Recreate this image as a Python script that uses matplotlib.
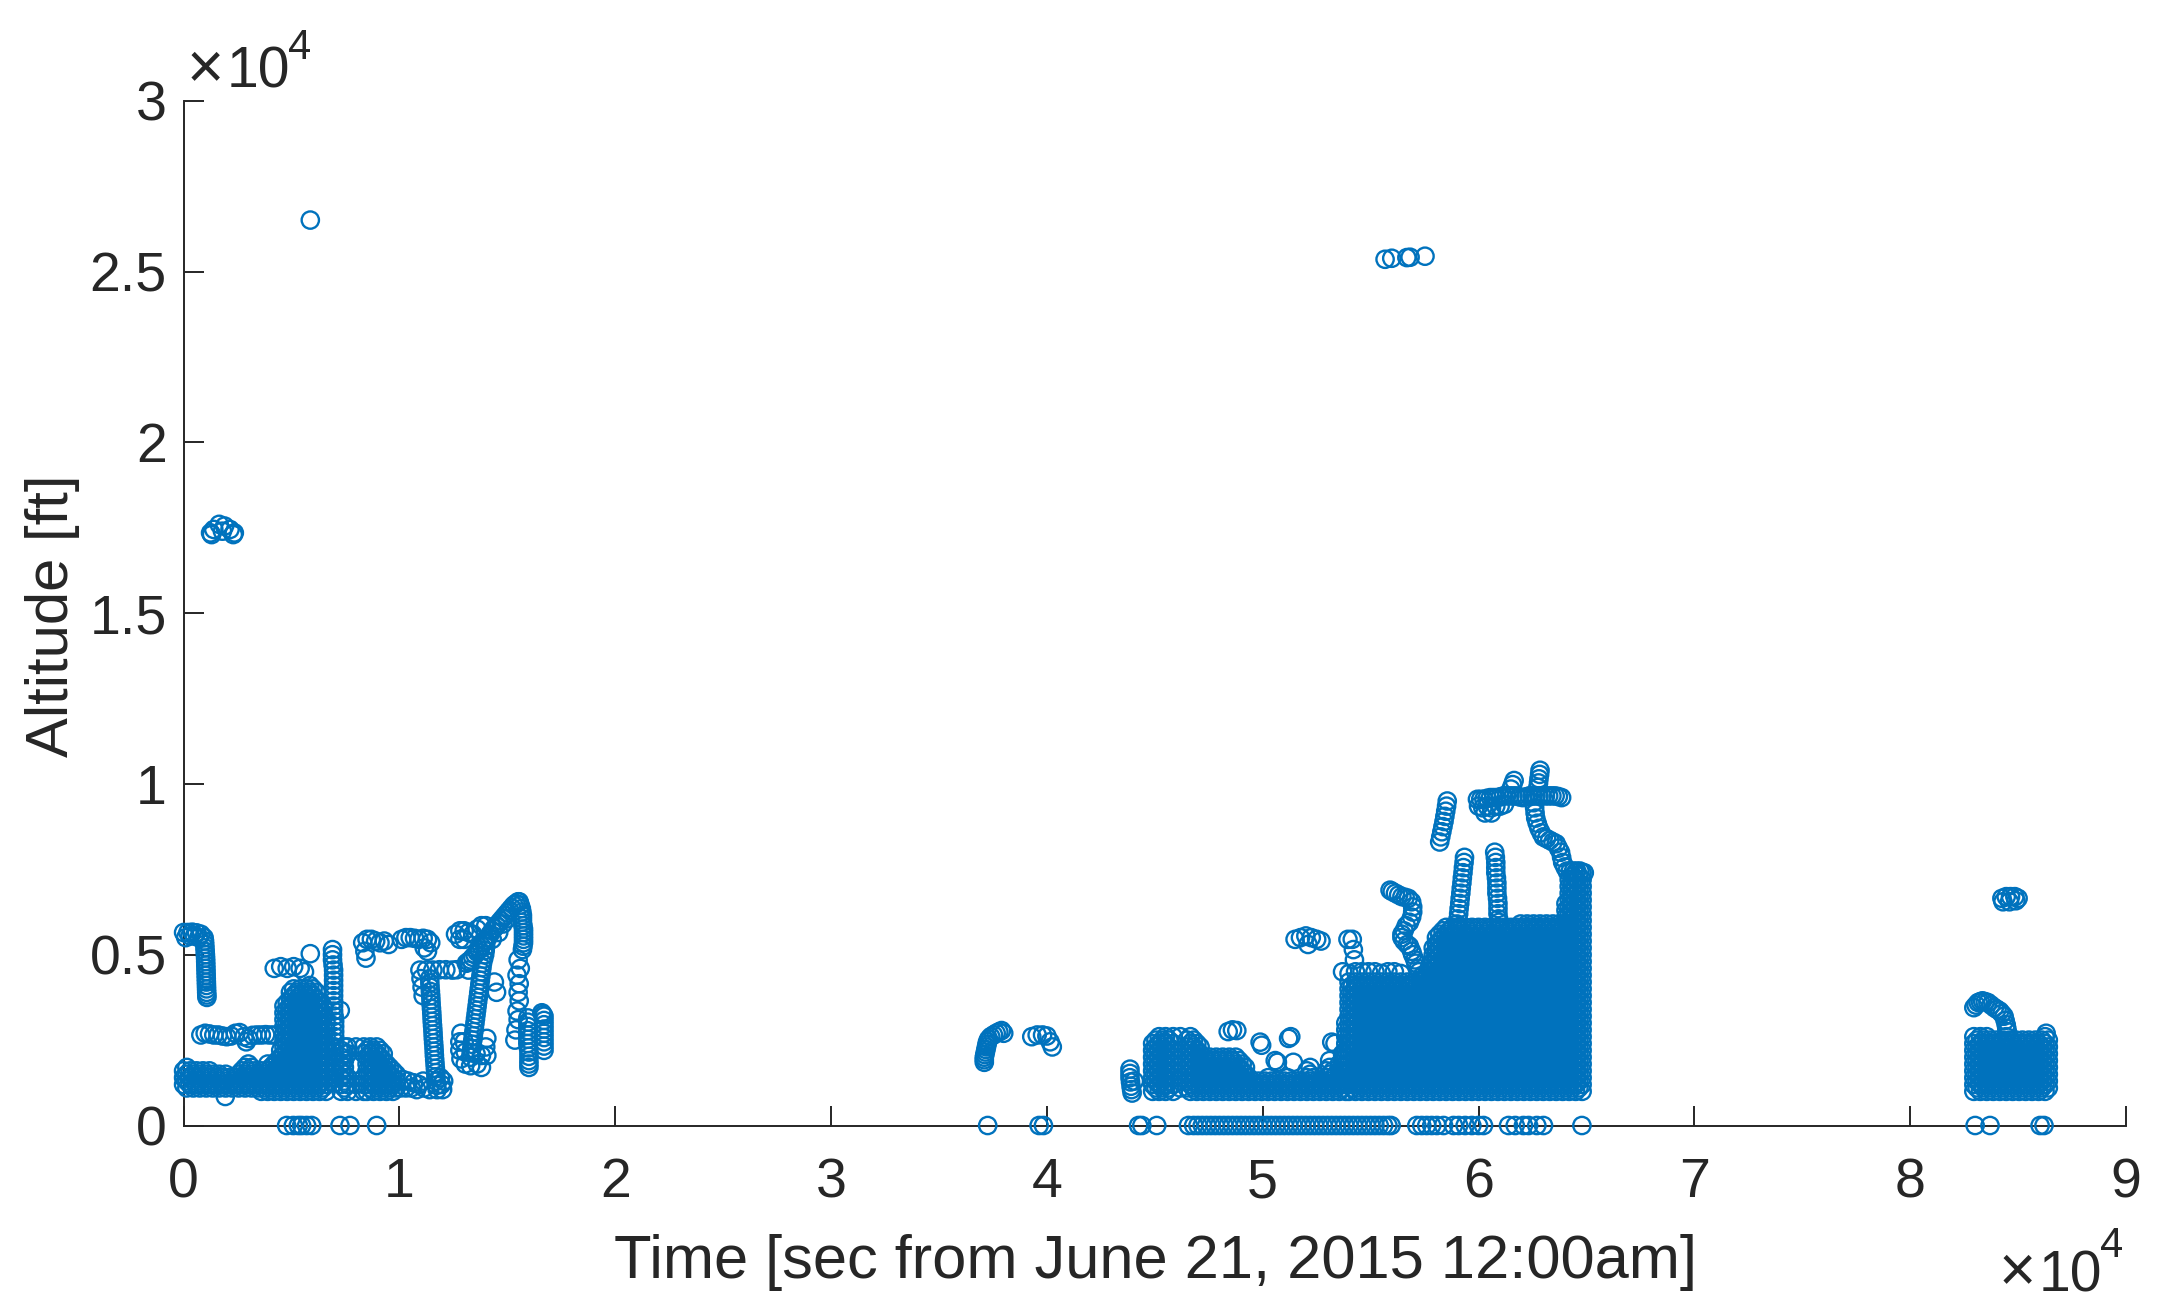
import numpy as np
import matplotlib
matplotlib.use("Agg")
import matplotlib.pyplot as plt

plt.rcParams['font.family'] = ['Liberation Sans', 'DejaVu Sans']

# ---------------- data (time [s], altitude [ft]) ----------------
xticks = [0, 10000, 20000, 30000, 40000, 50000, 60000, 70000, 80000, 90000]
xtick_labels = ['0', '1', '2', '3', '4', '5', '6', '7', '8', '9']
yticks = [0, 5000, 10000, 15000, 20000, 25000, 30000]
ytick_labels = ['0', '0.5', '1', '1.5', '2', '2.5', '3']

# altitude levels at which the dense tracks were sampled
levels_a = [1000, 1200, 1400, 1600, 1800, 2000, 2200, 2400, 2600, 2800, 3000, 3200, 3400,
            3600, 3800, 4000, 4200, 4400, 4600, 4800, 5000, 5200, 5400, 5600, 5800, 6000,
            6200, 6400, 6600, 6800, 7000, 7200, 7400]
levels_b = [1100, 1300, 1500, 1700, 1900, 2100, 2300, 2500, 2700, 2900, 3100, 3300, 3500,
            3700, 3900, 4100, 4300, 4500, 4700, 4900, 5100, 5300, 5500, 5700, 5900, 6100,
            6300, 6500, 6700, 6900, 7100, 7300]

# dense blocks: (time, lowest altitude, highest altitude)
left_low_block = [(0, 1100, 1650), (150, 1100, 1650), (300, 1100, 1600), (450, 1100, 1600),
                  (600, 1100, 1600), (750, 1100, 1550), (900, 1100, 1550), (1050, 1100, 1550),
                  (1200, 1100, 1550), (1350, 1100, 1500), (1500, 1100, 1500), (1650, 1100, 1500),
                  (1800, 1100, 1450), (1950, 1100, 1450), (2100, 1100, 1400), (2250, 1100, 1400),
                  (2400, 1100, 1450), (2550, 1100, 1500), (2700, 1100, 1600), (2850, 1100, 1750),
                  (3000, 1100, 1750), (3150, 1100, 1700), (3300, 1100, 1700), (3450, 1050, 1600),
                  (3600, 1050, 1600), (3750, 1050, 1550), (3900, 1050, 1800), (4050, 1050, 1800),
                  (4200, 1050, 1800), (4350, 1000, 2000)]
left_d_block = [(4500, 1000, 2200), (4650, 1000, 3500), (4800, 1000, 3700), (4950, 1000, 3850),
                (5100, 1000, 3950), (5250, 1000, 3950), (5400, 1000, 4000), (5550, 1000, 4000),
                (5700, 1000, 4000), (5850, 1000, 4050), (6000, 1000, 4100), (6150, 1000, 3900),
                (6300, 1000, 3700), (6450, 1000, 3500), (6600, 1000, 3100)]
left_e_block = [(7300, 1000, 2200), (7450, 1000, 2250), (7600, 1000, 1500), (7600, 2100, 2300),
                (7990, 1000, 1250), (7990, 2300, 2300), (8350, 1000, 1500), (8350, 2100, 2300),
                (8500, 1000, 2300), (8650, 1000, 2250), (8800, 1000, 2250), (8950, 1000, 2250),
                (9100, 1000, 2250), (9250, 1000, 2150), (9400, 1000, 1900), (9550, 1000, 1800),
                (9700, 1000, 1650), (9850, 1000, 1500)]
mid_block = [(44900, 1000, 2500), (45050, 1000, 2600), (45200, 1000, 2600), (45350, 1000, 2600),
             (45500, 1000, 2600), (45650, 1000, 2600), (45850, 1000, 2600), (46180, 1000, 1300),
             (46180, 2600, 2600), (46500, 1000, 2600), (46650, 1000, 2600), (46800, 1000, 2600),
             (46950, 1000, 2500), (47100, 1000, 2400), (47250, 1000, 2000), (47400, 1000, 2000),
             (47550, 1000, 2000), (47700, 1000, 2000), (47850, 1000, 2000), (48000, 1000, 2000),
             (48150, 1000, 2000), (48300, 1000, 2000), (48450, 1000, 2000), (48600, 1000, 2000),
             (48750, 1000, 2000), (48900, 1000, 2000), (49050, 1000, 1900), (49200, 1000, 1800)]
mid_low_block = [(49350, 1000, 1500), (49500, 1000, 1400), (49650, 1000, 1300), (49800, 1000, 1250),
                 (49950, 1000, 1250), (50100, 1000, 1300), (50250, 1000, 1400), (50400, 1000, 1400),
                 (50550, 1000, 1300), (50700, 1000, 1250), (50850, 1000, 1250), (51000, 1000, 1300),
                 (51150, 1000, 1400), (51300, 1000, 1400), (51450, 1000, 1300), (51600, 1000, 1250),
                 (51750, 1000, 1300), (51900, 1000, 1400), (52050, 1000, 1600), (52200, 1000, 1800),
                 (52350, 1000, 1500), (52500, 1000, 1400), (52650, 1000, 1300), (52800, 1000, 1300),
                 (52950, 1000, 1600), (53100, 1000, 1850), (53250, 1000, 1600), (53400, 1000, 1500),
                 (53550, 1000, 1900), (53700, 1000, 2200), (53850, 1000, 3000)]
bulk_t = [54000, 54150, 54300, 54450, 54600, 54750, 54900, 55050, 55200, 55350, 55500, 55650,
          55800, 55950, 56100, 56250, 56400, 56550, 56700, 56850, 57000, 57150, 57300, 57450,
          57600, 57750, 57900, 58050, 58200, 58350, 58500, 58650, 58800, 58950, 59100, 59250,
          59400, 59550, 59700, 59850, 60000, 60150, 60300, 60450, 60600, 60750, 60900, 61050,
          61200, 61350, 61500, 61650, 61800, 61950, 62100, 62250, 62400, 62550, 62700, 62850,
          63000, 63150, 63300, 63450, 63600, 63750, 63900, 64050, 64200, 64350, 64500, 64650,
          64800]
bulk_top = [4200, 4200, 4200, 4200, 4200, 4200, 4200, 4200, 4200, 4200, 4200, 4200,
            4200, 4200, 4200, 4200, 4200, 4200, 4200, 4200, 4200, 4200, 4300, 4400,
            4500, 4700, 5200, 5500, 5700, 5800, 5800, 5800, 5800, 5800, 5800, 5800,
            5800, 5800, 5800, 5800, 5800, 5800, 5800, 5800, 5800, 5800, 5800, 5800,
            5800, 5800, 5800, 5800, 5800, 5850, 5900, 5900, 5900, 5900, 5900, 5900,
            5900, 5900, 5900, 5900, 5900, 5900, 5900, 6600, 7300, 7400, 7400, 7400,
            7400]
right_block_t = [82950, 83100, 83250, 83400, 83550, 83700, 83850, 84000, 84150, 84300, 84450,
                 84600, 84750, 84900, 85050, 85200, 85350, 85500, 85650, 85800, 85950, 86100,
                 86250, 86400]
right_block_top = [2550, 2550, 2550, 2550, 2550, 2550, 2500, 2500, 2500, 2500, 2600, 2550,
                   2500, 2500, 2500, 2500, 2500, 2500, 2500, 2500, 2500, 2550, 2600, 2550]

outliers = [(5871, 26508), (55670, 25360), (55980, 25390), (56680, 25410),
            (56830, 25420), (57520, 25450)]
blob_17k = [(1250, 17350), (1400, 17450), (1650, 17600), (1900, 17550), (2150, 17450),
            (2350, 17350), (1300, 17300), (2300, 17300), (1800, 17400)]
left_track_a = [(0, 5650), (200, 5650), (400, 5660), (600, 5640), (800, 5600), (950, 5500),
                (100, 5500), (300, 5550), (500, 5550), (700, 5500),
                (970, 5400), (980, 5300), (990, 5200), (1000, 5100), (1010, 5000), (1020, 4900),
                (1025, 4800), (1030, 4700), (1035, 4600), (1040, 4500), (1045, 4400),
                (1050, 4300), (1055, 4200), (1060, 4100), (1065, 4000), (1070, 3900),
                (1075, 3820), (1080, 3750)]
left_band_b = [(800, 2650), (1000, 2700), (1200, 2680), (1400, 2650), (1600, 2650),
               (1800, 2620), (2000, 2600), (2200, 2620), (2400, 2700), (2600, 2720),
               (2800, 2600), (2900, 2450), (3000, 2550), (3200, 2640), (3400, 2650),
               (3600, 2650), (3800, 2660), (4000, 2650), (4200, 2650), (1930, 850)]
left_block_d_pts = [(4200, 4600), (4500, 4650), (4800, 4600), (5100, 4650), (5400, 4600),
                    (5600, 4500), (5870, 5030), (6900, 5150), (6900, 5000), (6900, 4850),
                    (6925, 4700), (6950, 4550), (6950, 4400), (6950, 4250), (6950, 4100),
                    (6950, 3950), (6950, 3800), (6950, 3650), (6950, 3500), (6950, 3350),
                    (6975, 3200), (7000, 3050), (7000, 2900), (7000, 2750), (7000, 2600),
                    (7000, 2450), (7000, 2300), (7000, 2150), (7000, 2000), (7000, 1850),
                    (7000, 1700), (7000, 1550), (7000, 1400), (7000, 1250),
                    (7260, 3370), (7990, 1790)]
left_upper_pts = [(8300, 5350), (8500, 5450), (8700, 5450), (8900, 5400), (9100, 5350),
                  (9300, 5400), (9500, 5300), (8450, 4900), (8400, 5100),
                  (10100, 5450), (10300, 5500), (10500, 5500), (10700, 5480), (10900, 5450),
                  (11100, 5480), (11300, 5450), (11450, 5350), (11150, 5200), (11300, 5100)]
left_h_pts = [(10950, 4550), (11250, 4550), (11550, 4550), (11850, 4560), (12150, 4560),
              (12450, 4550), (12650, 4560), (11000, 4300), (11050, 4050), (11100, 3800),
              (11400, 4300), (11410, 4175), (11420, 4050), (11435, 3925), (11450, 3800),
              (11460, 3675), (11470, 3550), (11485, 3425), (11500, 3300), (11510, 3175),
              (11520, 3050), (11535, 2925), (11550, 2800), (11560, 2675), (11570, 2550),
              (11585, 2425), (11600, 2300), (11610, 2175), (11620, 2050), (11635, 1925),
              (11650, 1800), (11665, 1675), (11680, 1550), (11690, 1425), (11700, 1300),
              (11725, 1175), (11750, 1050),
              (10150, 1350), (10400, 1300), (10650, 1250), (10900, 1200), (11150, 1100),
              (11400, 1050), (12000, 1050), (12050, 1300), (10300, 1100), (11900, 1400),
              (10050, 1100), (10550, 1100), (10800, 1050), (11100, 1300), (11950, 1200)]
left_i_pts = [(12600, 5600), (12800, 5700), (13000, 5700), (13200, 5650), (13400, 5600),
              (13600, 5750), (13800, 5850), (14000, 5850), (13000, 5450), (12800, 5450),
              (14000, 5250), (13975, 5125), (13950, 5000), (13900, 4875), (13850, 4750),
              (13825, 4625), (13800, 4500), (13775, 4375), (13750, 4250), (13725, 4125),
              (13700, 4000), (13675, 3875), (13650, 3750), (13625, 3625), (13600, 3500),
              (13575, 3375), (13550, 3250), (13525, 3125), (13500, 3000), (13475, 2875),
              (13450, 2750), (13425, 2625), (13400, 2500), (13375, 2375), (13350, 2250),
              (13325, 2125), (13300, 2000),
              (12850, 2700), (12800, 2450), (12800, 2200), (12850, 1950), (13050, 1800),
              (13000, 2450), (13300, 1750), (13600, 1800), (13800, 2050), (14000, 2300),
              (14050, 2550), (14050, 2050), (13800, 1700), (13050, 2150), (13550, 2100),
              (13100, 4750), (13200, 4800), (13300, 4850), (13400, 4925), (13500, 5000),
              (13600, 5075), (13700, 5150), (13800, 5250), (13900, 5350), (14000, 5425),
              (14100, 5500), (14200, 5600), (14300, 5700), (14400, 5775), (14500, 5850),
              (14600, 5925), (14700, 6000), (14800, 6075), (14900, 6150), (15000, 6225),
              (15100, 6300), (15200, 6375), (15300, 6450), (15400, 6500), (15500, 6550),
              (13200, 4550), (14300, 5450), (14600, 5650), (14800, 5900), (15000, 6050),
              (14500, 3900), (14400, 4200),
              (15550, 6550), (15600, 6450), (15650, 6350), (15675, 6250), (15700, 6150),
              (15700, 6050), (15700, 5950), (15725, 5850), (15750, 5750), (15750, 5650),
              (15750, 5550), (15750, 5450), (15750, 5350), (15725, 5250), (15700, 5150)]
left_rings_pts = [(15500, 4850), (15600, 4600), (15450, 4400), (15550, 4150), (15500, 3900),
                  (15550, 3650), (15450, 3350), (15500, 3100), (15400, 2800), (15350, 2500)]
left_tail_pts = [(15950, 3150), (15950, 3025), (15950, 2900), (15950, 2775), (15950, 2650),
                 (15950, 2525), (15950, 2400), (15975, 2275), (16000, 2150), (16000, 2025),
                 (16000, 1900), (16000, 1800), (16000, 1700), (16600, 3300), (16650, 3250),
                 (16700, 3200), (16700, 3075), (16700, 2950), (16700, 2825), (16700, 2700),
                 (16700, 2575), (16700, 2450), (16700, 2325), (16700, 2200)]

mid_pts = [(37100, 1850), (37100, 1925), (37100, 2000), (37125, 2075), (37150, 2150),
           (37175, 2225), (37200, 2300), (37225, 2375), (37250, 2450), (37300, 2525),
           (37400, 2600), (37525, 2650), (37650, 2700), (37775, 2740), (37900, 2780),
           (38000, 2700),
           (39300, 2600), (39550, 2650), (39800, 2650), (40000, 2620), (40150, 2450),
           (40250, 2300), (43850, 1650), (43850, 1525), (43850, 1400), (43875, 1275),
           (43900, 1150), (43925, 1050), (43950, 950), (44050, 1300),
           (48400, 2750), (48600, 2800), (48800, 2780),
           (49880, 2440), (49950, 2350), (50580, 1900), (50680, 1850), (51200, 2550),
           (51300, 2600), (51420, 1850), (53200, 2440), (53350, 2400),
           (51500, 5450), (51750, 5500), (52000, 5550), (52250, 5500), (52500, 5450),
           (52700, 5400), (52100, 5300)]
mid_hook_pts = [(53950, 5450), (54150, 5450), (54200, 5150), (54250, 4850), (53700, 4500),
                (54000, 4450), (54300, 4500), (54600, 4500), (54900, 4500), (55200, 4500),
                (55500, 4450), (55800, 4500), (56100, 4500), (56400, 4450),
                (55900, 6890), (56000, 6850), (56150, 6800), (56300, 6750), (56450, 6700),
                (56600, 6680), (56750, 6650), (56900, 6550), (56950, 6400), (56950, 6250),
                (56900, 6100), (56800, 5950), (56650, 5850), (56550, 5700), (56450, 5600),
                (56450, 5500), (56550, 5400), (56700, 5300), (56800, 5250), (56900, 5100),
                (56950, 5000), (57050, 4850), (57100, 4750), (57200, 4600), (57250, 4500),
                (57350, 4350), (57400, 4250)]
mid_spike_pts = [(58550, 9500), (58520, 9350), (58480, 9200), (58440, 9050), (58400, 8900),
                 (58350, 8750), (58300, 8600), (58250, 8450), (58200, 8300),
                 (59350, 7850), (59330, 7700), (59300, 7550), (59280, 7400), (59250, 7250),
                 (59230, 7100), (59200, 6950), (59180, 6800), (59150, 6650), (59130, 6500),
                 (59100, 6350), (59080, 6200), (59050, 6050), (59000, 5900),
                 (60750, 8000), (60780, 7850), (60800, 7700), (60800, 7550), (60800, 7400),
                 (60830, 7250), (60850, 7100), (60850, 6950), (60850, 6800), (60880, 6650),
                 (60900, 6500), (60900, 6350), (60900, 6200), (60930, 6050), (60950, 5950),
                 (59950, 9550), (60100, 9550), (60250, 9550), (60400, 9580), (60550, 9600),
                 (60700, 9600), (60850, 9600), (61000, 9620), (61150, 9650), (61300, 9650),
                 (61450, 9650), (61600, 9650), (61750, 9650), (61900, 9620), (62050, 9600),
                 (62200, 9620), (62350, 9650), (62500, 9650), (62650, 9650), (62800, 9650),
                 (62950, 9650), (63100, 9650), (63250, 9650), (63400, 9650), (63550, 9650),
                 (63700, 9630), (63850, 9600),
                 (60000, 9350), (60200, 9300), (60400, 9350), (60600, 9300), (60800, 9350),
                 (61000, 9350), (61200, 9400), (60300, 9150), (60600, 9150),
                 (61500, 9850), (61580, 9980), (61650, 10100), (62750, 9900), (62780, 10030),
                 (62800, 10150), (62830, 10280), (62850, 10400),
                 (62550, 9450), (62600, 9300), (62620, 9150), (62650, 9000), (62720, 8850),
                 (62800, 8700), (62900, 8570), (63000, 8450), (63150, 8400), (63300, 8350),
                 (63450, 8300), (63600, 8250), (63700, 8120), (63800, 8000), (63850, 7850),
                 (63900, 7700), (64000, 7570), (64100, 7450), (64250, 7450), (64400, 7450),
                 (64550, 7450), (64700, 7450), (64900, 7400)]

right_pts = [(84250, 6650), (84450, 6700), (84650, 6700), (84850, 6700), (85000, 6650),
             (84300, 6550), (84600, 6550), (84900, 6580),
             (82950, 3450), (83050, 3525), (83150, 3600), (83250, 3625), (83350, 3650),
             (83475, 3625), (83600, 3600), (83750, 3525), (83900, 3450), (84025, 3400),
             (84150, 3350), (84250, 3275), (84350, 3200), (84400, 3075), (84450, 2950),
             (84475, 2850), (84500, 2750), (86300, 2700)]

zero_t = [4775, 5085, 5315, 5470, 5700, 5935, 7245, 7710, 8946,
          37257, 39640, 39840, 44250, 44400, 45090, 46560,
          46800, 47000, 47200, 47400, 47600, 47800, 48000, 48200, 48400, 48600, 48800,
          49000, 49200, 49400, 49600, 49800, 50000, 50200, 50400, 50600, 50800, 51000,
          51200, 51400, 51600, 51800, 52000, 52200, 52400, 52600, 52800, 53000, 53200,
          53400, 53600, 53800, 54000, 54200, 54400, 54600, 54800, 55000, 55200, 55400,
          55600, 55800, 55950,
          57140, 57370, 57600, 57830, 58070, 58380, 58840, 59080, 59380, 59690, 60000,
          60230, 61390, 61700, 62080, 62320, 62700, 63010, 64790,
          83010, 83700, 86020, 86200]

# ---------------- assemble ----------------
t_all, a_all = [], []


def add_pts(pts):
    for t, a in pts:
        t_all.append(t)
        a_all.append(a)


def add_block(specs):
    for i, (t, lo, hi) in enumerate(specs):
        levels = levels_a if i % 2 == 0 else levels_b
        for a in levels:
            if lo - 60 <= a <= hi + 60:
                t_all.append(t)
                a_all.append(a)


add_block(left_low_block)
add_block(left_d_block)
add_block(left_e_block)
add_block(mid_block)
add_block(mid_low_block)
add_block([(t, 1000, top) for t, top in zip(bulk_t, bulk_top)])
add_block([(t, 1000, top) for t, top in zip(right_block_t, right_block_top)])
for pts in [outliers, blob_17k, left_track_a, left_band_b, left_block_d_pts, left_upper_pts,
            left_h_pts, left_i_pts, left_rings_pts, left_tail_pts, mid_pts, mid_hook_pts,
            mid_spike_pts, right_pts]:
    add_pts(pts)
add_pts([(t, 0) for t in zero_t])

# ---------------- plot ----------------
W, H = 2165, 1313
fig = plt.figure(figsize=(W / 100, H / 100), dpi=100)
ax = fig.add_axes([183.6 / W, 1 - 1125.5 / H, (2126 - 183.6) / W, (1125.5 - 100.8) / H])
txt = '#262626'
ax.scatter(t_all, a_all, s=155, facecolors='none', edgecolors='#0072BD',
           linewidths=1.7, clip_on=False, zorder=3)
ax.set_xlim(0, 90000)
ax.set_ylim(0, 30000)
for s in ['top', 'right']:
    ax.spines[s].set_visible(False)
for s in ['left', 'bottom']:
    ax.spines[s].set_linewidth(1.4)
    ax.spines[s].set_color(txt)
ax.set_xticks(xticks)
ax.set_xticklabels(xtick_labels)
ax.set_yticks(yticks)
ax.set_yticklabels(ytick_labels)
ax.tick_params(axis='both', direction='in', length=14.5, width=1.4, color=txt,
               labelcolor=txt, labelsize=40)
ax.tick_params(axis='x', pad=23)
ax.tick_params(axis='y', pad=12)

fig.text(1155 / W, 1 - 1278 / H, 'Time [sec from June 21, 2015 12:00am]', ha='center',
         va='baseline', fontsize=44.2, color=txt)
fig.text(52 / W, 1 - 616 / H, 'Altitude [ft]', ha='center', va='center', rotation=90,
         fontsize=43, color=txt)


def exponent(x0, base_y, sup_y):
    fig.text(x0 / W, 1 - base_y / H, '\u00d7', ha='left', va='baseline', fontsize=46, color=txt)
    fig.text((x0 + 40) / W, 1 - base_y / H, '10', ha='left', va='baseline', fontsize=41,
             color=txt)
    fig.text((x0 + 101) / W, 1 - sup_y / H, '4', ha='left', va='baseline', fontsize=30,
             color=txt)


exponent(187, 88, 59)
exponent(1999, 1291, 1257)

fig.savefig('out.png', dpi=100, facecolor='white')
